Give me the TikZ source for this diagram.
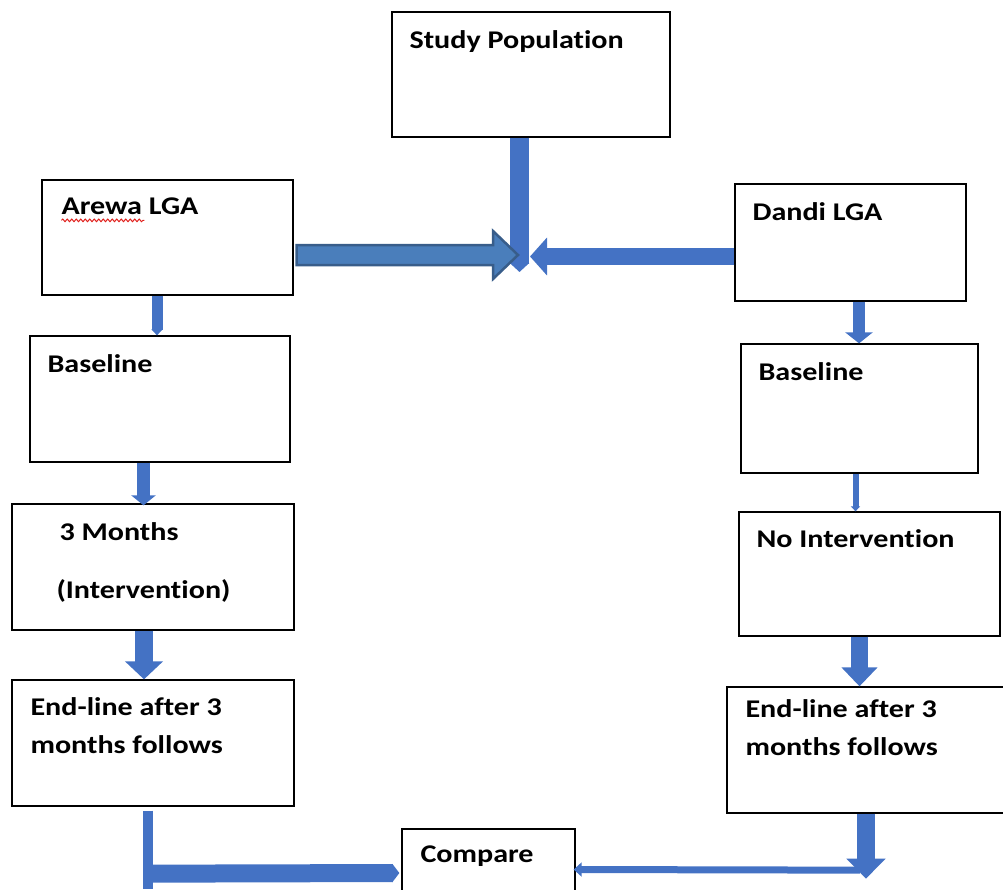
\documentclass[tikz,border=0pt]{standalone}
\usepackage{fontspec}
\setmainfont{Carlito}[FakeStretch=1.18, Ligatures=CommonOff]
\usetikzlibrary{arrows.meta, positioning, fit, calc, decorations.pathmorphing}
\definecolor{flowblue}{HTML}{4472C4}
\definecolor{steelfill}{HTML}{4A7EBB}
\definecolor{steeledge}{HTML}{385D8A}
\definecolor{spellred}{HTML}{E0201C}

\begin{document}
\begin{tikzpicture}[
    x=1pt, y=-1pt,
    box/.style={draw, line width=1.3pt, inner sep=0pt},
    txt/.style={anchor=base west, inner sep=0pt, text=black, font=\bfseries\fontsize{25.5}{30}\selectfont},
    flow/.style={draw=flowblue, line width=#1},
    bhead/.style 2 args={-{Triangle[width=#1,length=#2]}}
]
    \useasboundingbox (0,0) rectangle (1003,889);

    % Boxes
    \node[box, fit={(392,12) (670,137)}] (study) {};
    \node[box, fit={(42,180) (293,295)}] (arewa) {};
    \node[box, fit={(30,336) (290,462)}] (baseL) {};
    \node[box, fit={(12,504) (294,630)}] (months) {};
    \node[box, fit={(12,680) (294,806)}] (endL) {};
    \node[box, fit={(735,184) (966,301)}] (dandi) {};
    \node[box, fit={(741,344) (978,473)}] (baseR) {};
    \node[box, fit={(739,512) (1000,636)}] (noint) {};
    \node[box, fit={(727,687) (1005,813)}] (endR) {};
    \node[box, fit={(402,829) (575,895)}] (compare) {};
    \coordinate (hub) at (519,256);

    % Texts
    \node[txt] (study-t) at ($(study.north west)+(18,37)$) {Study Population};
    \node[txt] (arewa-t) at ($(arewa.north west)+(20,35)$) {Arewa LGA};
    \node[txt] (baseL-t) at ($(baseL.north west)+(18,37)$) {Baseline};
    \node[txt] (months-t1) at ($(months.north west)+(48,37)$) {3 Months};
    \node[txt] (months-t2) at ($(months.north west)+(45,95)$) {(Intervention)};
    \node[txt] (endL-t1) at ($(endL.north west)+(19,36)$) {End-line after 3};
    \node[txt] (endL-t2) at ($(endL.north west)+(19,74)$) {months follows};
    \node[txt] (dandi-t) at ($(dandi.north west)+(18,37)$) {Dandi LGA};
    \node[txt] (baseR-t) at ($(baseR.north west)+(18,37)$) {Baseline};
    \node[txt] (noint-t) at ($(noint.north west)+(18,36)$) {No Intervention};
    \node[txt] (endR-t1) at ($(endR.north west)+(19,31)$) {End-line after 3};
    \node[txt] (endR-t2) at ($(endR.north west)+(19,69)$) {months follows};
    \node[txt] (compare-t) at ($(compare.north west)+(19,34)$) {Compare};

    % spell-check mark
    \draw[spellred, line width=1pt, decorate, decoration={snake, amplitude=1.3pt, segment length=4.5pt}]
        ($(arewa-t.base west)+(0,6)$) -- ++(83,0);

    % Arrows into the study population
    \draw[flow=19pt, bhead={19pt}{9pt}] ($(study.south)+(-11.5,0)$) -- ($(hub)+(0.5,16)$);
    \filldraw[fill=steelfill, draw=steeledge, line width=2.5pt, line join=miter]
        ($(arewa.east |- hub)+(3,-11)$) -- ($(hub)+(-26,-11)$) -- ($(hub)+(-26,-25)$)
        -- ($(hub)+(-1,-1)$) -- ($(hub)+(-26,23)$) -- ($(hub)+(-26,9)$)
        -- ($(arewa.east |- hub)+(3,9)$) -- cycle;
    \draw[flow=17pt, bhead={37pt}{17pt}] ($(dandi.west |- hub)+(0,0.5)$) -- ($(hub)+(11,0.5)$);

    % Left column
    \draw[flow=11pt, bhead={11pt}{6pt}] ($(arewa.south)+(-10.5,0)$) -- ($(baseL.north)+(-3,0)$);
    \draw[flow=13pt, bhead={24pt}{10pt}] ($(baseL.south)+(-16.5,0)$) -- ($(months.north)+(-9.5,2)$);
    \draw[flow=18pt, bhead={37pt}{18pt}] ($(months.south)+(-9,0)$) -- ($(endL.north)+(-9,0)$);

    % Right column
    \draw[flow=12pt, bhead={27pt}{11pt}] ($(dandi.south)+(8.5,0)$) -- ($(baseR.north)+(-0.5,0)$);
    \draw[flow=6pt, bhead={9pt}{5pt}] ($(baseR.south)+(-4,0)$) -- ($(noint.north)+(-14,0)$);
    \draw[flow=17pt, bhead={35pt}{19pt}] ($(noint.south)+(-10,0)$) -- ($(endR.north)+(-6.5,0)$);

    % Into compare
    \draw[flow=10pt] ($(endL.south)+(-5,4)$) -- ++(0,78);
    \draw[flow=18pt, bhead={18pt}{7pt}] ($(endL.south)+(0,67)$) -- ($(compare.west)+(-2,11)$);
    \draw[flow=7pt, bhead={14pt}{8pt}] ($(endR.south)+(-6,56.5)$) -- ($(compare.east)+(-2,7.5)$);
    \draw[flow=18pt, bhead={38pt}{20pt}] (endR.south) -- ++(0,65);
\end{tikzpicture}
\end{document}
